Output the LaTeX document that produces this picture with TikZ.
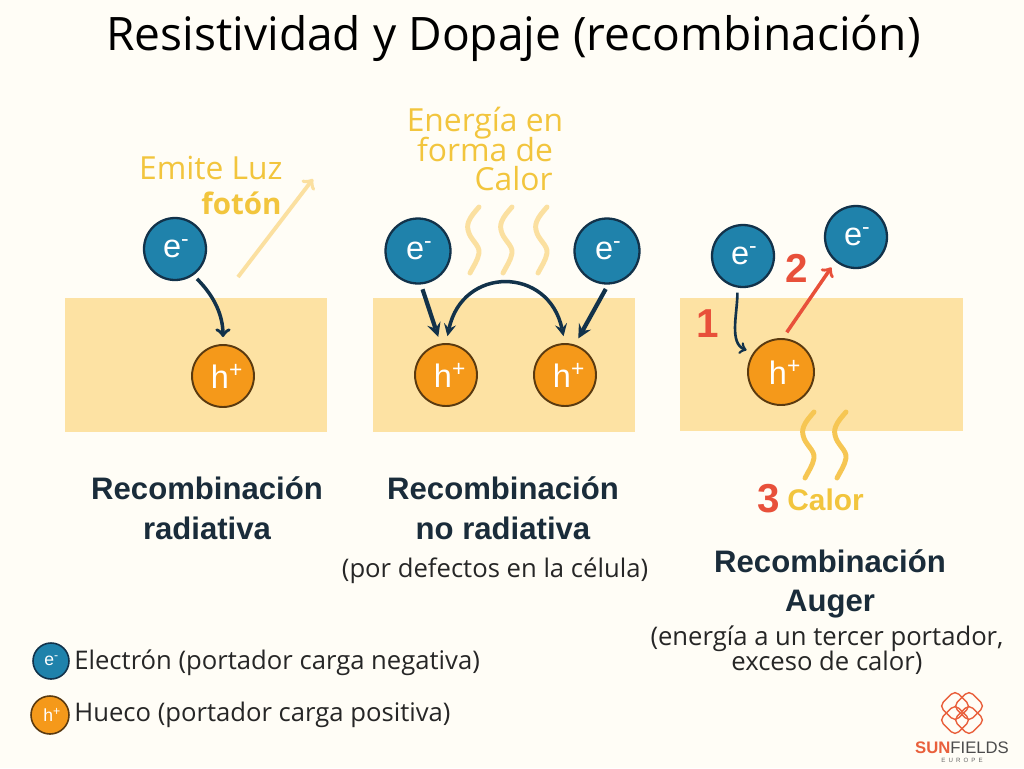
\documentclass[tikz,border=0pt]{standalone}
\usepackage{fontspec}
\setmainfont{Open Sans}
\newfontfamily\headfont{Liberation Sans}
\usepackage{xcolor}
\usetikzlibrary{arrows,positioning}
\lineskiplimit=-20pt
\definecolor{sfpaper}{HTML}{FFFDF6}
\definecolor{sfband}{HTML}{FDE2A3}
\definecolor{sfblue}{HTML}{1F82AB}
\definecolor{sforange}{HTML}{F5991A}
\definecolor{sfnavy}{HTML}{12324A}
\definecolor{sfbrown}{HTML}{5A3A10}
\definecolor{sfyellow}{HTML}{F2C53D}
\definecolor{sfpale}{HTML}{FBE0A0}
\definecolor{sfwave}{HTML}{F6C653}
\definecolor{sfred}{HTML}{E8503A}
\definecolor{sflogo}{HTML}{E9603C}
\definecolor{sfhead}{HTML}{1A2C3A}
\newcommand{\elec}{\hspace*{0.08em}e\textsuperscript{-}}
\newcommand{\hole}{\hspace*{0.25em}h\textsuperscript{+}}
\newcommand{\heatpath}{.. controls +(-7,8) and +(-2,-8) .. ++(-11,23) .. controls +(2,10) and +(1,-8) .. ++(11,23) .. controls +(-1,7) and +(3,-6) .. ++(-9,20)}
\tikzstyle{electron} = [circle, draw=sfnavy, line width=1.3pt, fill=sfblue, text=white, minimum size=1.24cm, inner sep=0pt, font=\headfont\fontsize{18.5}{18.5}\selectfont]
\tikzstyle{hueco} = [circle, draw=sfbrown, line width=1.1pt, fill=sforange, text=white, minimum size=1.24cm, inner sep=0pt, font=\headfont\fontsize{18.5}{18.5}\selectfont]
\tikzstyle{elecarrow} = [line width=2pt,->,>=to,color=sfnavy,shorten >=0.14cm,shorten <=0.1cm]
\tikzstyle{redarrow} = [line width=2pt,->,>=to,color=sfred,shorten >=0.14cm,shorten <=0.14cm]
\tikzstyle{photon} = [line width=2.2pt,->,>=to,color=sfpale]
\tikzstyle{heat} = [line width=2.8pt,line cap=round,color=sfpale]
\tikzstyle{heatdark} = [line width=2.8pt,line cap=round,color=sfwave]
\tikzstyle{yellowtext} = [text=sfyellow, inner sep=0pt, align=center, font=\fontsize{18.1}{17}\selectfont]
\tikzstyle{heading} = [text=sfhead, inner sep=0pt, align=center, font=\headfont\bfseries\fontsize{17.7}{22.5}\selectfont]
\tikzstyle{note} = [text=black!85, inner sep=0pt, align=center, font=\fontsize{14.6}{14.2}\selectfont]
\tikzstyle{rednum} = [text=sfred, inner sep=0pt, font=\headfont\bfseries\fontsize{23}{23}\selectfont]
\tikzstyle{petal} = [rectangle, rounded corners=3pt, draw=sflogo, line width=0.8pt, minimum size=0.44cm, rotate=45, inner sep=0pt]

\begin{document}
\begin{tikzpicture}[x=0.02cm, y=-0.02cm]
\fill[sfpaper] (0,0) rectangle (1024,768);
% Title
\node[inner sep=0pt, font=\fontsize{26.25}{30}\selectfont] (title) at (513.5,38) {Resistividad y Dopaje (recombinación)};

% Bands
\fill[sfband] (65,298) rectangle (327,432);
\fill[sfband] (373,298) rectangle (635,432);
\fill[sfband] (680,298) rectangle (963,431);

% Radiative
\node[electron] (eA) at (175,249) {\elec};
\node[hueco] (hA) at (223,376) {\hole};
\draw[elecarrow] (eA.-55) to[out=-45,in=90] (hA.north);
\coordinate (fotonStart) at (238,277);
\coordinate (fotonEnd) at (313,179);
\draw[photon] (fotonStart) -- (fotonEnd);
\node[yellowtext, anchor=east] (luz) at (283,168) {Emite Luz};
\node[yellowtext, anchor=east, font=\bfseries\fontsize{16.8}{17}\selectfont] (foton) at (282,203) {fotón};
\node[heading] (radiativa) at (207,508) {Recombinación\\radiativa};

% Non radiative
\node[electron, minimum size=1.3cm] (eB) at (418,251) {\elec};
\node[electron, minimum size=1.3cm] (eC) at (607,251) {\elec};
\node[hueco] (hB) at (446,375) {\hole};
\node[hueco] (hC) at (565,375) {\hole};
\draw[elecarrow, line width=2.4pt, >=stealth] (eB.-85) -- (hB.100);
\draw[elecarrow, line width=2.4pt, >=stealth] (eC.-88) -- (hC.72);
\draw[elecarrow, <->, >=stealth, shorten <=0.14cm] (hB.north) to[out=78,in=102,looseness=1.7] (hC.north);
\node[yellowtext] (energia) at (485,149) {Energía en\\forma de\\\hspace*{1.14cm}Calor};
\draw[heat] (479,207) \heatpath;
\draw[heat] (512,207) \heatpath;
\draw[heat] (547,207) \heatpath;
\node[heading] (noradiativa) at (503,508) {Recombinación\\no radiativa};
\node[note] (defectos) at (495,571) {(por defectos en la célula)};

% Auger
\node[electron] (eD) at (743,256) {\elec};
\node[electron] (eE) at (856,237) {\elec};
\node[hueco, minimum size=1.32cm] (hD) at (781,372) {\hole};
\draw[elecarrow, line width=1.5pt] (eD.-100) to[out=-90,in=160] (hD.145);
\draw[redarrow] (hD.87) -- (eE.230);
\node[rednum] (uno) at (708,324) {1};
\node[rednum] (dos) at (797,268) {2};
\node[rednum] (tres) at (769,499) {3};
\draw[heatdark] (814,412) \heatpath;
\draw[heatdark] (846,412) \heatpath;
\node[text=sfyellow, inner sep=0pt, anchor=west, font=\headfont\bfseries\fontsize{17}{17}\selectfont] (calorD) at (787,500) {Calor};
\node[heading] (auger) at (830,584) {Recombinación\\Auger};
\node[note] (tercer) at (827,650) {(energía a un tercer portador,\\exceso de calor)};

% Legend
\node[electron, minimum size=0.72cm, line width=0.9pt, font=\headfont\fontsize{10}{10}\selectfont] (eL) at (51,661) {\elec};
\node[hueco, minimum size=0.76cm, line width=0.9pt, font=\headfont\fontsize{10}{10}\selectfont] (hL) at (50,715) {\hole};
\node[note, anchor=west] (electron) at (74,663) {Electrón (portador carga negativa)};
\node[note, anchor=west] (hole) at (74,715) {Hueco (portador carga positiva)};

% Logo
\node[petal] (petalA) at (955,706) {};
\node[petal] (petalB) at (969,706) {};
\node[petal] (petalC) at (955,720) {};
\node[petal] (petalD) at (969,720) {};
\node[inner sep=0pt, font=\headfont\fontsize{9.5}{10}\selectfont, text=black!70] (sun) at (962,748) {\textcolor{sflogo}{\textbf{SUN}}FIELDS};
\node[inner sep=0pt, below=0.07cm of sun, font=\headfont\fontsize{3.5}{4}\selectfont, text=black!60] (europe) {E\,\,\,U\,\,\,R\,\,\,O\,\,\,P\,\,\,E};
\end{tikzpicture}
\end{document}
